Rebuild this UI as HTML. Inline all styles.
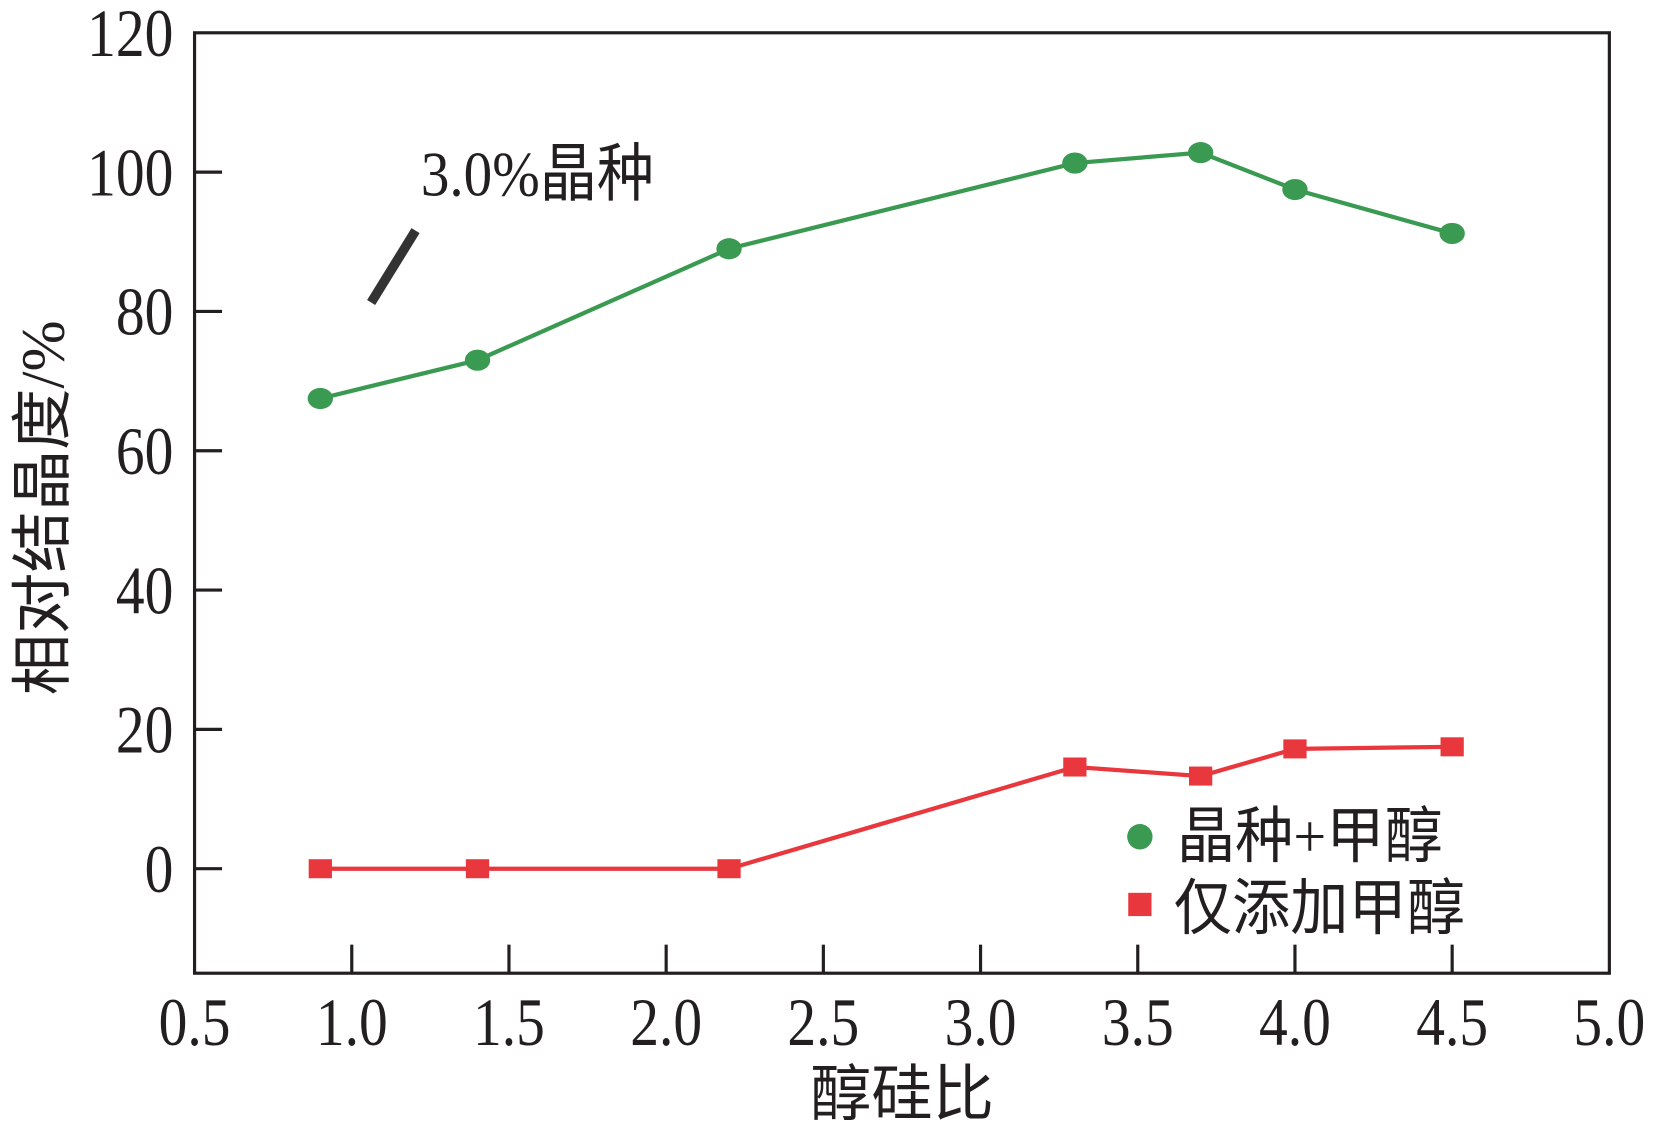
<!DOCTYPE html>
<html><head><meta charset="utf-8"><style>
html,body{margin:0;padding:0;background:#fff;}
svg{display:block;}
text{font-family:"Liberation Serif","Noto Serif CJK SC",serif;fill:#231f20;}
.cjk{font-family:"Liberation Serif","Noto Sans CJK SC",sans-serif;}
</style></head><body>
<svg id="chart" width="1658" height="1134" viewBox="0 0 1568 1072" preserveAspectRatio="none" xmlns="http://www.w3.org/2000/svg">
<g id="axes"></g>
<g id="series"></g>
<text transform="translate(398,185) scale(0.9,1)" font-size="60" class="cjk">3.0%晶种</text>
<line x1="393" y1="218" x2="351" y2="286" stroke="#333" stroke-width="9"/>
<circle cx="1078" cy="791" r="12" fill="#3a9a52"/>
<text transform="translate(1113,810) scale(0.95,1)" font-size="58" class="cjk">晶种+甲醇</text>
<rect x="1067" y="844" width="22" height="22" fill="#e8383d"/>
<text transform="translate(1110,878) scale(0.95,1)" font-size="58" class="cjk">仅添加甲醇</text>
<text transform="translate(853,1054)" font-size="58" text-anchor="middle" class="cjk">醇硅比</text>
<text transform="translate(60,480) rotate(-90)" font-size="58" text-anchor="middle" class="cjk">相对结晶度/%</text>
</svg>
<script>
const xVals = [0.9, 1.4, 2.2, 3.3, 3.7, 4.0, 4.5];
const seedMethanol = [67.5, 73, 89, 101.3, 102.8, 97.5, 91.2];
const methanolOnly = [0, 0, 0, 14.6, 13.3, 17.2, 17.5];
const xTicks = [0.5, 1.0, 1.5, 2.0, 2.5, 3.0, 3.5, 4.0, 4.5, 5.0];
const yTicks = [0, 20, 40, 60, 80, 100, 120];

const L=184,R=1522,T=31,B=920;
const xMin=0.5,xMax=5.0,yMin=-15,yMax=120;
const sx=v=>L+(v-xMin)/(xMax-xMin)*(R-L);
const sy=v=>B-(v-yMin)/(yMax-yMin)*(B-T);
const NS='http://www.w3.org/2000/svg';
function mk(tag,attrs,parent){const e=document.createElementNS(NS,tag);for(const k in attrs)e.setAttribute(k,attrs[k]);parent.appendChild(e);return e;}
const axes=document.getElementById('axes'), ser=document.getElementById('series');
let fr=mk('rect',{x:L,y:T,width:R-L,height:B-T,fill:'none',stroke:'#231f20','stroke-width':3},axes);


xTicks.forEach(v=>{
  const x=sx(v);
  if(v>xMin&&v<xMax){let t=mk('line',{x1:x,y1:B,x2:x,y2:B-27,stroke:'#231f20','stroke-width':3},axes);
  
  }
  let l=mk('text',{transform:'translate('+x+',988) scale(0.85,1)','font-size':64,'text-anchor':'middle'},axes);l.textContent=v.toFixed(1);
  
  
});
yTicks.forEach(v=>{
  const y=sy(v);
  if(v<yMax){let t=mk('line',{x1:L,y1:y,x2:L+26,y2:y,stroke:'#231f20','stroke-width':3},axes);
  
  }
  let l=mk('text',{transform:'translate(164,'+(y+22)+') scale(0.85,1)','font-size':64,'text-anchor':'end'},axes);l.textContent=v;
  
  
});
function line(vals,color,name){
  const p=mk('polyline',{points:xVals.map((x,i)=>sx(x)+','+sy(vals[i])).join(' '),fill:'none',stroke:color,'stroke-width':4},ser);
  
  
}
line(seedMethanol,'#3a9a52','seed-methanol');
line(methanolOnly,'#e8383d','methanol-only');
xVals.forEach((x,i)=>{
  const c=mk('ellipse',{cx:sx(x),cy:sy(seedMethanol[i]),rx:12,ry:10,fill:'#3a9a52'},ser);
  
  
  const r=mk('rect',{x:sx(x)-11,y:sy(methanolOnly[i])-9,width:22,height:18,fill:'#e8383d'},ser);
  
  
});
</script>
</body></html>
